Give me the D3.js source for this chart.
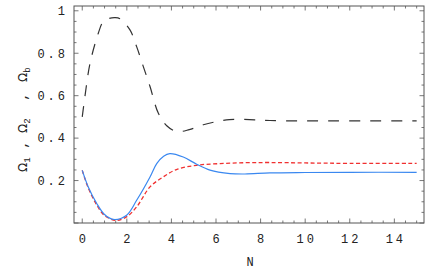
<!DOCTYPE html>
<html>
<head>
<meta charset="utf-8">
<script src="https://cdn.jsdelivr.net/npm/d3@7.9.0/dist/d3.min.js"></script>
<style>
  body { margin: 0; background: #fff; }
  text { font-family: "Liberation Mono", "DejaVu Sans Mono", monospace; fill: #222; }
</style>
</head>
<body>
<svg id="chart" width="436" height="270"></svg>
<script>
// values: [N, Omega]
const omegaB = [[0,0.5],[0.12,0.596],[0.35,0.753],[0.72,0.894],[0.94,0.949],[1.2,0.964],[1.47,0.968],
  [1.69,0.963],[2.14,0.91],[2.44,0.831],[2.74,0.737],[3.04,0.643],[3.41,0.518],[3.79,0.458],[4.23,0.431],
  [4.8,0.44],[5.43,0.463],[6.03,0.478],[6.6,0.487],[7.2,0.488],[7.82,0.486],[8.42,0.483],[9.5,0.481],
  [11,0.481],[13,0.481],[15,0.481]];
const omega1 = [[0,0.248],[0.27,0.17],[0.65,0.092],[1.0,0.04],[1.39,0.017],[1.99,0.037],[2.44,0.107],
  [3.04,0.217],[3.34,0.28],[3.65,0.315],[3.93,0.327],[4.53,0.311],[5.13,0.277],[5.73,0.249],[6.63,0.233],
  [7.3,0.231],[8.42,0.236],[10,0.238],[12,0.239],[15,0.239]];
const omega2 = [[0,0.248],[0.27,0.165],[0.65,0.085],[1.0,0.035],[1.54,0.012],[2.0,0.03],[2.44,0.076],
  [3.04,0.17],[3.63,0.217],[4.23,0.252],[5.13,0.272],[6.18,0.28],[7.3,0.284],[8.42,0.285],[10,0.283],
  [12,0.281],[15,0.281]];

const xTicks = [0, 2, 4, 6, 8, 10, 12, 14];
const yTicks = [0.2, 0.4, 0.6, 0.8, 1];
const yTickLabels = ["0.2", "0.4", "0.6", "0.8", "1"];
const yLabelParts = [["1", 172, 145], ["2", 133, 97], ["b", 82, null]];

const fLeft = 74, fRight = 424, fTop = 6, fBottom = 223;
const svg = d3.select('#chart');

const x = d3.scaleLinear().domain([-0.37, 15.33]).range([fLeft, fRight]);
const y = d3.scaleLinear().domain([0, 1.0226]).range([fBottom, fTop]);

svg.append('clipPath').attr('id', 'clip')
  .append('rect').attr('x', fLeft).attr('y', fTop).attr('width', fRight - fLeft).attr('height', fBottom - fTop);

// frame
svg.append('rect')
  .attr('x', fLeft).attr('y', fTop).attr('width', fRight - fLeft).attr('height', fBottom - fTop)
  .attr('fill', 'none').attr('stroke', '#555').attr('stroke-width', 1);

// ticks on all four sides, pointing in
const xMinor = d3.range(0, 15.01, 0.5);
const yMinor = d3.range(0, 1.01, 0.05);
const tickG = svg.append('g').attr('stroke', '#555').attr('stroke-width', 0.8);
xMinor.forEach(v => {
  const major = Math.abs(v % 2) < 1e-6;
  const len = major ? 4.5 : 2.5;
  tickG.append('line').attr('x1', x(v)).attr('x2', x(v)).attr('y1', fBottom).attr('y2', fBottom - len);
  tickG.append('line').attr('x1', x(v)).attr('x2', x(v)).attr('y1', fTop).attr('y2', fTop + len);
});
yMinor.forEach(v => {
  const r = Math.round(v * 100) % 20;
  const len = r === 0 ? 4.5 : 2.5;
  tickG.append('line').attr('y1', y(v)).attr('y2', y(v)).attr('x1', fLeft).attr('x2', fLeft + len);
  tickG.append('line').attr('y1', y(v)).attr('y2', y(v)).attr('x1', fRight).attr('x2', fRight - len);
});

// tick labels
svg.append('g').selectAll('text').data(xTicks).join('text')
  .attr('x', d => x(d) + 1.5).attr('y', 243)
  .attr('text-anchor', 'middle').attr('font-size', 12).attr('letter-spacing', 3)
  .text(d => d);
svg.append('g').selectAll('text').data(yTicks).join('text')
  .attr('x', 68).attr('y', d => y(d) + 4.3)
  .attr('text-anchor', 'end').attr('font-size', 12).attr('letter-spacing', 3)
  .text((d, i) => yTickLabels[i]);

// axis labels
svg.append('text').attr('x', 250).attr('y', 266).attr('text-anchor', 'middle')
  .attr('font-size', 12).text('N');

const yl = svg.append('g').attr('transform', 'translate(27,0) rotate(-90)');
yLabelParts.forEach(p => {
  const t = yl.append('text').attr('x', -p[1]).attr('y', 0);
  t.append('tspan').attr('font-family', 'DejaVu Sans').attr('font-size', 12).text('Ω');
  t.append('tspan').attr('font-size', 9).attr('dy', 3).text(p[0]);
  if (p[2] !== null) {
    yl.append('text').attr('x', -p[2]).attr('y', 0).attr('text-anchor', 'middle')
      .attr('font-size', 12).attr('font-weight', 'bold').text(',');
  }
});

// curves
const line = d3.line().x(d => x(d[0])).y(d => y(d[1])).curve(d3.curveCatmullRom.alpha(0.5));
const plot = svg.append('g').attr('clip-path', 'url(#clip)').attr('fill', 'none');

plot.append('path').datum(omegaB).attr('d', line)
  .attr('stroke', '#333').attr('stroke-width', 1.2).attr('stroke-dasharray', '11,10');
plot.append('path').datum(omega2).attr('d', line)
  .attr('stroke', '#f03030').attr('stroke-width', 1.3).attr('stroke-dasharray', '4,2.5');
plot.append('path').datum(omega1).attr('d', line)
  .attr('stroke', '#3a88f0').attr('stroke-width', 1.2);
</script>
</body>
</html>
